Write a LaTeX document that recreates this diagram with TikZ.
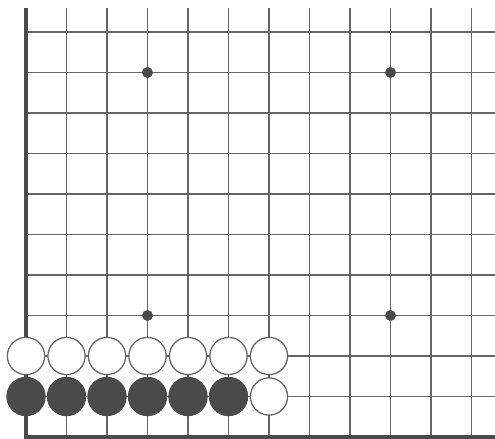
\documentclass[tikz,border=0pt]{standalone}
\definecolor{gridgray}{HTML}{666666}
\definecolor{stonegray}{HTML}{4A4A4A}
\tikzset{
  stoneW/.style={circle,draw=gridgray,line width=0.9pt,fill=white,minimum size=0.92cm,inner sep=0pt},
  stoneB/.style={circle,draw=stonegray,line width=0.6pt,fill=stonegray,minimum size=0.95cm,inner sep=0pt},
  hoshi/.style={circle,fill=stonegray,minimum size=0.27cm,inner sep=0pt}
}
\begin{document}
\begin{tikzpicture}[scale=1.0]
  \useasboundingbox (-0.642,-0.049) rectangle (11.580,10.790);
  % Grid lines
  \foreach \i in {1,...,11}
    \draw[gridgray,line width=0.8pt] (\i,0) -- (\i,10.593);
  \foreach \j in {1,...,10}
    \draw[gridgray,line width=0.8pt] (0,\j) -- (11.58,\j);
  % Board edges
  \draw[stonegray,line width=2.4pt] (0,10.593) -- (0,0) -- (11.58,0);
  % Star points
  \node[hoshi] (s1) at (3,9) {};
  \node[hoshi] (s2) at (9,9) {};
  \node[hoshi] (s3) at (3,3) {};
  \node[hoshi] (s4) at (9,3) {};
  % White stones, second line
  \foreach \i in {0,...,6}
    \node[stoneW] (w\i) at (\i,2) {};
  % Black stones, first line
  \foreach \i in {0,...,5}
    \node[stoneB] (b\i) at (\i,1) {};
  \node[stoneW] (w7) at (6,1) {};
\end{tikzpicture}
\end{document}
